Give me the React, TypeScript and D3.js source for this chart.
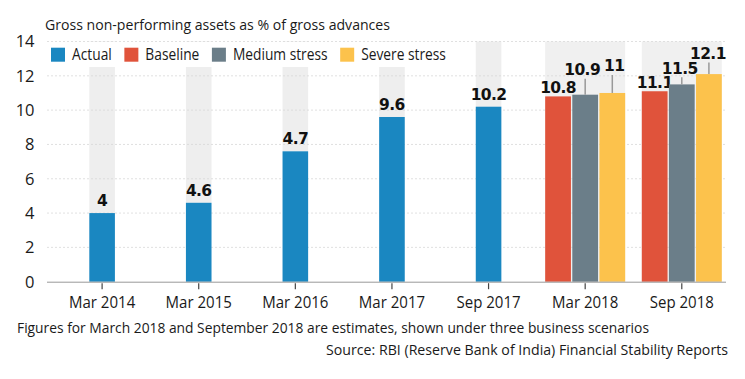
import React, { useEffect, useRef } from "react";
import * as d3 from "d3";

// ---------- data ----------
const categories = ["Mar 2014", "Mar 2015", "Mar 2016", "Mar 2017", "Sep 2017", "Mar 2018", "Sep 2018"];
const actualCategories = ["Mar 2014", "Mar 2015", "Mar 2016", "Mar 2017", "Sep 2017"];
const actualValues = [4, 4.6, 7.6, 9.6, 10.2]; // bar heights as drawn
const actualLabels = ["4", "4.6", "4.7", "9.6", "10.2"]; // labels as printed
const scenarioCategories = ["Mar 2018", "Sep 2018"];
const scenarioNames = ["Baseline", "Medium stress", "Severe stress"];
const baselineValues = [10.8, 11.1];
const mediumStressValues = [10.9, 11.5];
const severeStressValues = [11, 12.1];
const scenarioLabels = [["10.8", "10.9", "11"], ["11.1", "11.5", "12.1"]];
const yTickValues = [0, 2, 4, 6, 8, 10, 12, 14];
const legendNames = ["Actual", "Baseline", "Medium stress", "Severe stress"];
const titleText = "Gross non-performing assets as % of gross advances";
const noteText = "Figures for March 2018 and September 2018 are estimates, shown under three business scenarios";
const sourceText = "Source: RBI (Reserve Bank of India) Financial Stability Reports";

// ---------- styles / layout ----------
const W = 745;
const H = 379;
const COLORS: Record<string, string> = {
  Actual: "#1a87c1",
  Baseline: "#e0533b",
  "Medium stress": "#6b7e89",
  "Severe stress": "#fcc24c",
};
const FONT = "'Open Sans', 'Noto Sans', sans-serif";
const BOLD_FONT = "'DejaVu Sans', sans-serif";
// pixel lift / horizontal nudge of scenario value labels relative to their bar tops
const scenarioLabelLift = [
  [3, 19.5, 21.5],
  [3.3, 10.6, 15],
];
const scenarioLabelNudge = [
  [0, -3, 2],
  [0, -2, -1],
];

function condense(sel: d3.Selection<SVGTextElement, unknown, null, undefined>, factor: number) {
  const node = sel.node();
  if (!node) return 0;
  const len = node.getComputedTextLength();
  sel.attr("textLength", len * factor).attr("lengthAdjust", "spacingAndGlyphs");
  return len * factor;
}

export default function App() {
  const ref = useRef<SVGSVGElement>(null);

  useEffect(() => {
    const svg = d3.select(ref.current);
    svg.selectAll("*").remove();

    const y = d3.scaleLinear().domain([0, 14]).range([281.7, 41.5]);
    const x = d3.scaleBand<string>().domain(categories).range([53.8, 730.1]).padding(0);
    const cx = (c: string) => (x(c) as number) + x.bandwidth() / 2;
    const barW = 25.6;
    const inner = d3.scaleBand<string>().domain(scenarioNames).range([-40, 40]).paddingInner(0.05);
    const axisLeft = 47;
    const axisRight = 726;

    // grey backdrop columns
    const bg = svg.append("g");
    actualCategories.forEach((c, i) => {
      bg.append("rect")
        .attr("x", cx(c) - barW / 2)
        .attr("width", barW)
        .attr("y", y(14))
        .attr("height", y(actualValues[i]) - y(14))
        .attr("fill", "#eeeeee");
    });
    scenarioCategories.forEach((c) => {
      bg.append("rect")
        .attr("x", cx(c) - 40)
        .attr("width", 80)
        .attr("y", y(14))
        .attr("height", y(0) - y(14))
        .attr("fill", "#f0f0f0");
    });

    // gridlines
    svg.append("g")
      .selectAll("line")
      .data(yTickValues.filter((v) => v > 0))
      .join("line")
      .attr("x1", axisLeft)
      .attr("x2", axisRight)
      .attr("y1", (d) => y(d))
      .attr("y2", (d) => y(d))
      .attr("stroke", "#d8d8d8")
      .attr("stroke-width", 0.8)
      .attr("stroke-dasharray", "2,2");

    // y tick labels
    svg.append("g")
      .selectAll("text")
      .data(yTickValues)
      .join("text")
      .attr("x", 34.5)
      .attr("y", (d) => y(d))
      .attr("dy", "0.36em")
      .attr("text-anchor", "end")
      .attr("font-family", FONT)
      .attr("font-size", 16.5)
      .attr("fill", "#1a1a1a")
      .text((d) => String(d));

    // actual bars
    actualCategories.forEach((c, i) => {
      svg.append("rect")
        .attr("x", cx(c) - barW / 2)
        .attr("width", barW)
        .attr("y", y(actualValues[i]))
        .attr("height", y(0) - y(actualValues[i]))
        .attr("fill", COLORS.Actual);
      svg.append("text")
        .attr("x", cx(c))
        .attr("y", y(actualValues[i]) - 7)
        .attr("text-anchor", "middle")
        .attr("font-family", BOLD_FONT)
        .attr("font-weight", "bold")
        .attr("font-size", 15.5)
        .attr("letter-spacing", -0.6)
        .attr("fill", "#111")
        .text(actualLabels[i]);
    });

    // scenario bars
    const scenarioSeries = [baselineValues, mediumStressValues, severeStressValues];
    scenarioCategories.forEach((c, gi) => {
      scenarioNames.forEach((s, si) => {
        const v = scenarioSeries[si][gi];
        const bx = cx(c) + (inner(s) as number);
        const bw = inner.bandwidth();
        svg.append("rect")
          .attr("x", bx)
          .attr("width", bw)
          .attr("y", y(v))
          .attr("height", y(0) - y(v))
          .attr("fill", COLORS[s]);
        const lift = scenarioLabelLift[gi][si];
        if (lift > 6) {
          svg.append("line")
            .attr("x1", bx + bw / 2)
            .attr("x2", bx + bw / 2)
            .attr("y1", y(v))
            .attr("y2", y(v) - lift + 3.5)
            .attr("stroke", "#999")
            .attr("stroke-width", 1.5);
        }
        svg.append("text")
          .attr("x", bx + bw / 2 + scenarioLabelNudge[gi][si])
          .attr("y", y(v) - lift)
          .attr("text-anchor", "middle")
          .attr("font-family", BOLD_FONT)
          .attr("font-weight", "bold")
          .attr("font-size", 15.5)
          .attr("letter-spacing", -0.6)
          .attr("fill", "#111")
          .text(scenarioLabels[gi][si]);
      });
    });

    // x axis
    svg.append("line")
      .attr("x1", axisLeft)
      .attr("x2", axisRight)
      .attr("y1", y(0) + 0.5)
      .attr("y2", y(0) + 0.5)
      .attr("stroke", "#999")
      .attr("stroke-width", 1);
    categories.forEach((c) => {
      svg.append("line")
        .attr("x1", cx(c))
        .attr("x2", cx(c))
        .attr("y1", y(0) + 1.5)
        .attr("y2", y(0) + 7.5)
        .attr("stroke", "#444")
        .attr("stroke-width", 1.2);
      const t = svg.append("text")
        .attr("x", cx(c))
        .attr("y", 307.5)
        .attr("text-anchor", "middle")
        .attr("font-family", FONT)
        .attr("font-size", 16.5)
        .attr("fill", "#1a1a1a")
        .text(c);
      condense(t, 0.91);
    });

    // title
    svg.append("text")
      .attr("x", 45)
      .attr("y", 30)
      .attr("font-family", FONT)
      .attr("font-size", 14)
      .attr("fill", "#1a1a1a")
      .attr("textLength", 345)
      .attr("lengthAdjust", "spacingAndGlyphs")
      .text(titleText);

    // legend
    svg.append("rect").attr("x", 45).attr("y", 42).attr("width", 410).attr("height", 25).attr("fill", "#fff");
    let lx = 51;
    legendNames.forEach((n) => {
      svg.append("rect").attr("x", lx).attr("y", 47.7).attr("width", 14).attr("height", 14).attr("fill", COLORS[n]);
      const t = svg.append("text")
        .attr("x", lx + 21)
        .attr("y", 60)
        .attr("font-family", FONT)
        .attr("font-size", 16)
        .attr("fill", "#1a1a1a")
        .text(n);
      const w = condense(t, 0.86);
      lx = lx + 21 + w + 12.6;
    });

    // footer
    svg.append("text")
      .attr("x", 17)
      .attr("y", 333.3)
      .attr("font-family", FONT)
      .attr("font-size", 15)
      .attr("fill", "#1a1a1a")
      .attr("textLength", 632)
      .attr("lengthAdjust", "spacingAndGlyphs")
      .text(noteText);
    svg.append("text")
      .attr("x", 326)
      .attr("y", 355)
      .attr("font-family", FONT)
      .attr("font-size", 14.3)
      .attr("fill", "#1a1a1a")
      .attr("textLength", 402)
      .attr("lengthAdjust", "spacingAndGlyphs")
      .text(sourceText);
  }, []);

  return (
    <div style={{ position: "absolute", left: 0, top: 0 }}>
      <svg ref={ref} width={W} height={H} style={{ display: "block", background: "#fff" }} />
    </div>
  );
}
